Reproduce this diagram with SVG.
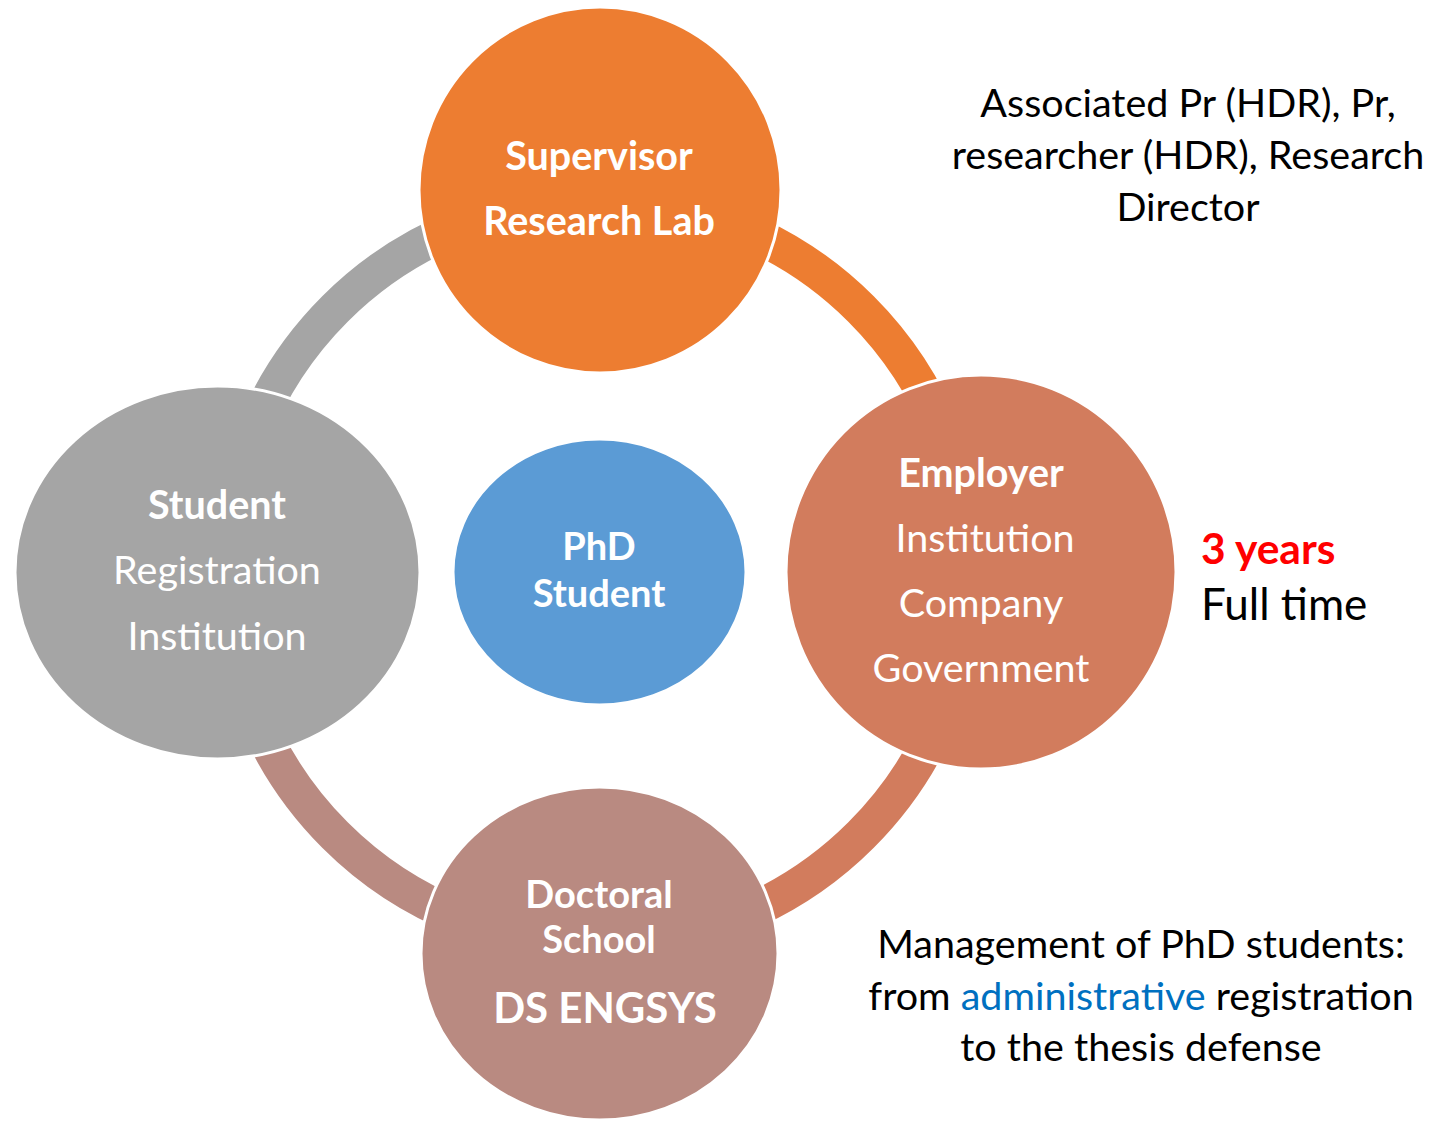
<svg xmlns="http://www.w3.org/2000/svg" width="1441" height="1121" viewBox="0 0 1441 1121">
<style>
.t{font-family:Lato,"Open Sans","Liberation Sans",sans-serif;text-anchor:middle}
.w{fill:#fff}
.b{font-weight:bold}
.s{font-size:39.5px}
.k{fill:#000;font-size:39.5px}
.arc{fill:none;stroke-width:36}
.node{stroke:#fff;stroke-width:3}
</style>
<rect width="1441" height="1121" fill="#fff"/>
<g id="connectors">
<path class="arc" stroke="#ED7D31" d="M598,200 A372,372 0 0 1 970,572"/>
<path class="arc" stroke="#D27C5D" d="M970,572 A372,372 0 0 1 598,944"/>
<path class="arc" stroke="#B98A81" d="M598,944 A372,372 0 0 1 226,572"/>
<path class="arc" stroke="#A5A5A5" d="M226,572 A372,372 0 0 1 598,200"/>
</g>
<g id="supervisor">
<ellipse class="node" cx="600" cy="190" rx="181" ry="183" fill="#ED7D31"/>
<text class="t w b s" x="599" y="170">Supervisor</text>
<text class="t w b s" x="599" y="235">Research Lab</text>
</g>
<g id="employer">
<ellipse class="node" cx="981" cy="572" rx="195" ry="197" fill="#D27C5D"/>
<text class="t w b s" x="981" y="487">Employer</text>
<text class="t w s" x="985" y="552">Institution</text>
<text class="t w s" x="981" y="617">Company</text>
<text class="t w s" x="981" y="682">Government</text>
</g>
<g id="doctoral">
<ellipse class="node" cx="599.5" cy="953.5" rx="178.5" ry="166.5" fill="#B98A81"/>
<text class="t w b" style="font-size:38px" x="599" y="908">Doctoral</text>
<text class="t w b" style="font-size:38px" x="599" y="953">School</text>
<text class="t w b" style="font-size:42px" x="605" y="1023">DS ENGSYS</text>
</g>
<g id="student">
<ellipse class="node" cx="217.5" cy="572.5" rx="202.5" ry="186.5" fill="#A5A5A5"/>
<text class="t w b s" x="217" y="519">Student</text>
<text class="t w s" x="217" y="584">Registration</text>
<text class="t w s" x="217" y="650">Institution</text>
</g>
<g id="phd">
<ellipse class="node" cx="599.5" cy="572" rx="146.5" ry="133" fill="#5B9BD5"/>
<text class="t w b" style="font-size:38px" x="599" y="560">PhD</text>
<text class="t w b" style="font-size:38px" x="599" y="607">Student</text>
</g>
<g id="supervisor-note">
<text class="t k" x="1188" y="117">Associated Pr (HDR), Pr,</text>
<text class="t k" x="1188" y="169">researcher (HDR), Research</text>
<text class="t k" x="1188" y="221">Director</text>
</g>
<g id="duration-note">
<text class="t b" style="text-anchor:start;fill:#FF0000;font-size:42.5px" x="1201" y="564">3 years</text>
<text class="t" style="text-anchor:start;fill:#000;font-size:44px" x="1201" y="620">Full time</text>
</g>
<g id="doctoral-note">
<text class="t k" x="1141" y="958">Management of PhD students:</text>
<text class="t k" x="1141" y="1010">from <tspan fill="#0070C0">administrative</tspan> registration</text>
<text class="t k" x="1141" y="1061">to the thesis defense</text>
</g>
</svg>
